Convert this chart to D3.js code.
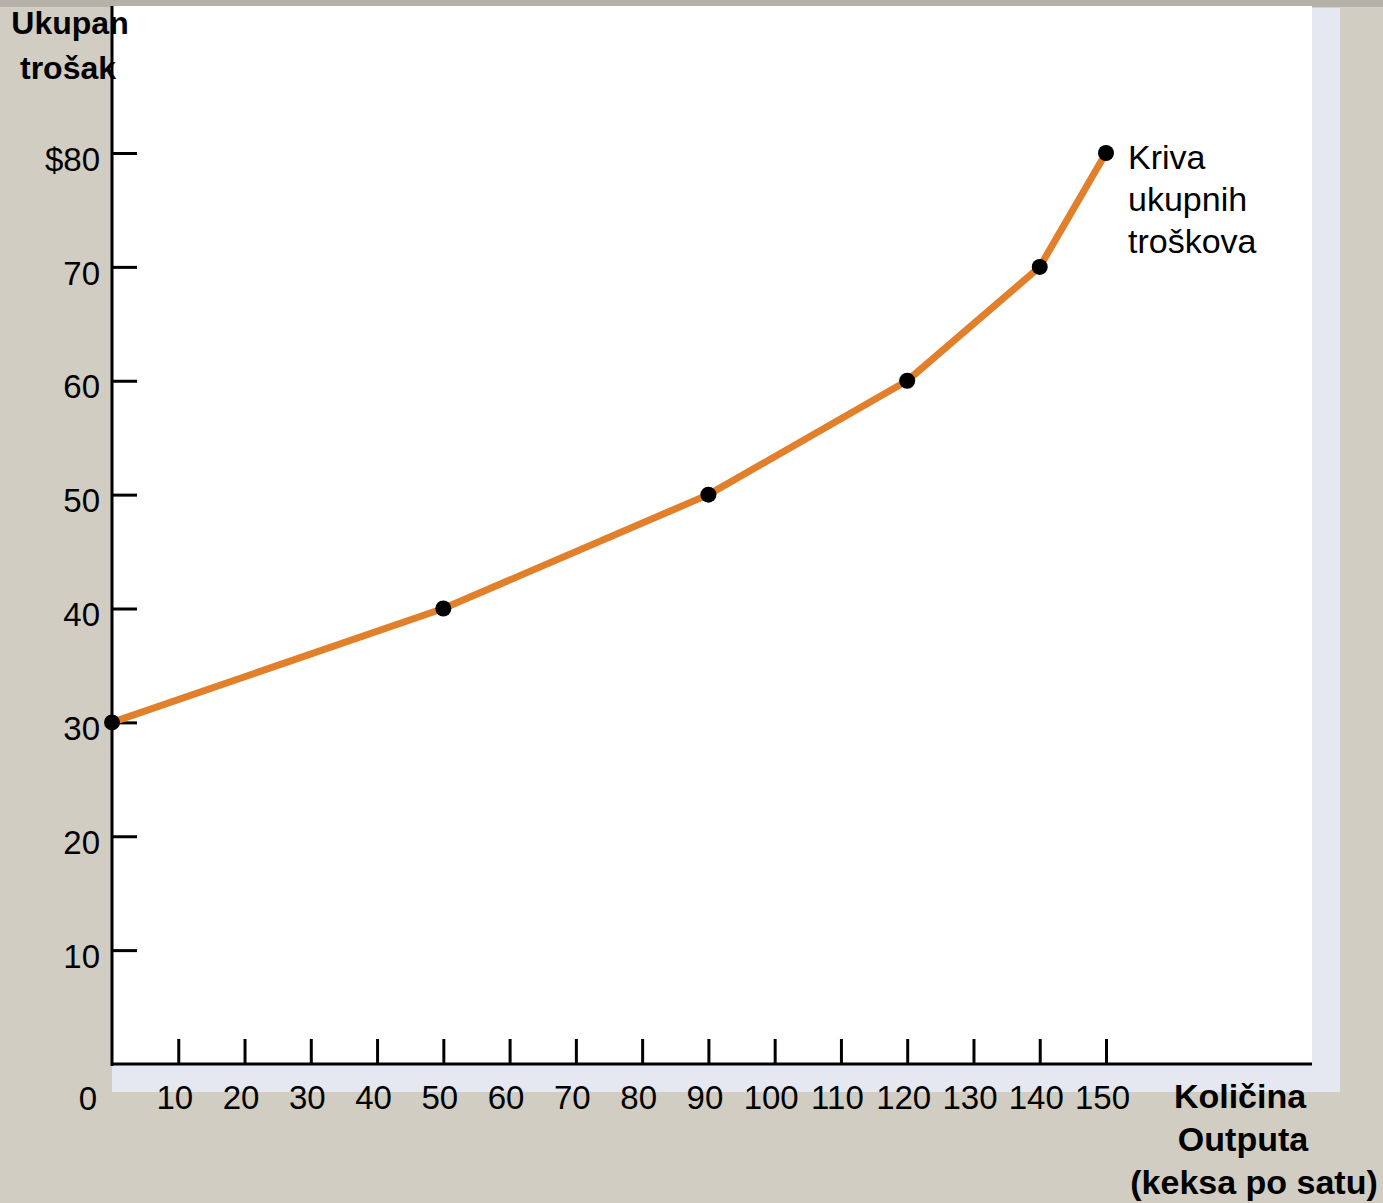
<!DOCTYPE html>
<html>
<head>
<meta charset="utf-8">
<script src="https://cdn.jsdelivr.net/npm/d3@7"></script>
<style>
  body { margin: 0; background: #d1cdc3; }
  svg { display: block; font-family: "Liberation Sans", Arial, sans-serif; }
</style>
</head>
<body>
<div id="chart"></div>
<script>
// data
var output = [0, 50, 90, 120, 140, 150];
var totalCost = [30, 40, 50, 60, 70, 80];
var xTickValues = [10, 20, 30, 40, 50, 60, 70, 80, 90, 100, 110, 120, 130, 140, 150];
var yTickValues = [10, 20, 30, 40, 50, 60, 70, 80];
var curveLabel = ["Kriva", "ukupnih", "troškova"];
var yTitle = ["Ukupan", "trošak"];
var xTitle = ["Količina", "Outputa", "(keksa po satu)"];

var svgWidth = 1383;
var svgHeight = 1203;

var svg = d3.select("#chart")
  .append("svg")
  .attr("width", svgWidth)
  .attr("height", svgHeight);

// top strip
svg.append("rect")
  .attr("x", 0).attr("y", 0)
  .attr("width", svgWidth).attr("height", 7)
  .attr("fill", "#b5b1a8");

// panel shadow + white panel
svg.append("rect")
  .attr("x", 112).attr("y", 8)
  .attr("width", 1228).attr("height", 1084)
  .attr("fill", "#e5e8f0");
svg.append("rect")
  .attr("x", 112).attr("y", 6)
  .attr("width", 1200).attr("height", 1059)
  .attr("fill", "#ffffff");

// scales
var x = d3.scaleLinear().domain([0, 150]).range([112, 1106]);
var y = d3.scaleLinear().domain([0, 80]).range([1064, 153]);

// y axis
var yAxis = d3.axisLeft(y)
  .tickValues(yTickValues)
  .tickSizeInner(-25)
  .tickSizeOuter(0)
  .tickPadding(12)
  .tickFormat(function (d) { return d === 80 ? "$80" : d; });

var gy = svg.append("g")
  .attr("transform", "translate(112,0)")
  .call(yAxis);
gy.select(".domain").remove();
gy.selectAll(".tick line").attr("stroke", "#000").attr("stroke-width", 3);
gy.selectAll(".tick text")
  .attr("font-size", 33)
  .attr("fill", "#000")
  .attr("dy", "0.52em");

// x axis
var xAxis = d3.axisBottom(x)
  .tickValues(xTickValues)
  .tickSizeInner(-25)
  .tickSizeOuter(0)
  .tickPadding(22);

var gx = svg.append("g")
  .attr("transform", "translate(0,1064)")
  .call(xAxis);
gx.select(".domain").remove();
gx.selectAll(".tick line").attr("stroke", "#000").attr("stroke-width", 3);
gx.selectAll(".tick text")
  .attr("font-size", 33)
  .attr("fill", "#000")
  .attr("dx", -4);

// origin label
svg.append("text")
  .attr("x", 88).attr("y", 1110)
  .attr("text-anchor", "middle")
  .attr("font-size", 33)
  .text("0");

// axis lines
svg.append("line")
  .attr("x1", 112).attr("x2", 112)
  .attr("y1", 6).attr("y2", 1066)
  .attr("stroke", "#000").attr("stroke-width", 3);
svg.append("line")
  .attr("x1", 111).attr("x2", 1312)
  .attr("y1", 1064).attr("y2", 1064)
  .attr("stroke", "#000").attr("stroke-width", 3);

// curve
var points = output.map(function (d, i) { return [d, totalCost[i]]; });

var line = d3.line()
  .x(function (d) { return x(d[0]); })
  .y(function (d) { return y(d[1]); });

svg.append("path")
  .datum(points)
  .attr("d", line)
  .attr("fill", "none")
  .attr("stroke", "#e27f2a")
  .attr("stroke-width", 7)
  .attr("stroke-linejoin", "round");

svg.selectAll("circle.pt")
  .data(points)
  .enter()
  .append("circle")
  .attr("class", "pt")
  .attr("cx", function (d) { return x(d[0]); })
  .attr("cy", function (d) { return y(d[1]); })
  .attr("r", 8)
  .attr("fill", "#000");

// curve label
svg.append("text")
  .attr("font-size", 34)
  .selectAll("tspan")
  .data(curveLabel)
  .enter()
  .append("tspan")
  .attr("x", 1128)
  .attr("y", function (d, i) { return 169 + i * 42; })
  .text(function (d) { return d; });

// y title
svg.append("text")
  .attr("font-size", 32)
  .attr("font-weight", "bold")
  .attr("text-anchor", "middle")
  .selectAll("tspan")
  .data(yTitle)
  .enter()
  .append("tspan")
  .attr("x", function (d, i) { return i === 0 ? 70 : 68; })
  .attr("y", function (d, i) { return 34 + i * 45; })
  .text(function (d) { return d; });

// x title
svg.append("text")
  .attr("font-size", 34)
  .attr("font-weight", "bold")
  .attr("text-anchor", "middle")
  .selectAll("tspan")
  .data(xTitle)
  .enter()
  .append("tspan")
  .attr("x", function (d, i) { return [1240, 1243, 1254][i]; })
  .attr("y", function (d, i) { return 1108 + i * 43; })
  .text(function (d) { return d; });
</script>
</body>
</html>
